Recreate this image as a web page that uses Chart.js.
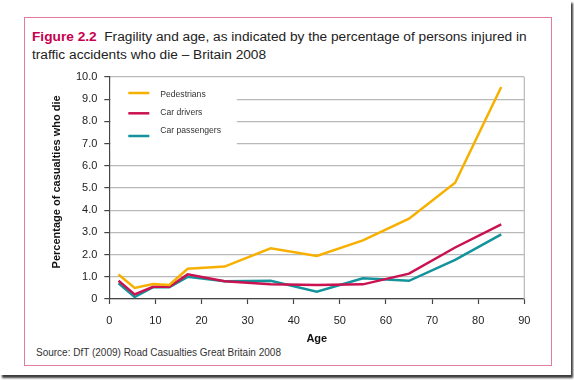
<!DOCTYPE html>
<html>
<head>
<meta charset="utf-8">
<script src="https://cdn.jsdelivr.net/npm/chart.js@4"></script>
<style>
  body { margin: 0; background: #fff; }
  #wrap { position: relative; width: 574px; height: 380px; overflow: hidden; background: #fff; }
  #paper { position: absolute; left: 0; top: 0; width: 571px; height: 375px; background: #fff; box-shadow: 2px 3px 2px #3a3a3a; }
  #frame { position: absolute; left: 24px; top: 17px; width: 526px; height: 347px; border: 1.5px solid #e27aa2; }
  #title { position: absolute; left: 32px; top: 28px; font: 13.7px/17.5px "Liberation Sans", Arial, sans-serif; color: #222; white-space: pre; }
  #title b { color: #c8004e; }
  #source { position: absolute; left: 36px; top: 347px; font: 10px/12px "Liberation Sans", Arial, sans-serif; color: #333; }
  #myChart { position: absolute; left: 0; top: 0; }
</style>
</head>
<body>
<div id="wrap">
  <div id="paper"></div>
  <div id="frame"></div>
  <div id="title"><b>Figure 2.2</b>  Fragility and age, as indicated by the percentage of persons injured in
traffic accidents who die – Britain 2008</div>
  <div id="source">Source: DfT (2009) Road Casualties Great Britain 2008</div>
  <canvas id="myChart" width="574" height="380"></canvas>
</div>
<script>
// values
const ages = [2, 5.5, 9.5, 13, 17, 25, 35, 45, 55, 65, 75, 85];
const pedestrians = [1.1, 0.5, 0.68, 0.63, 1.36, 1.46, 2.28, 1.94, 2.64, 3.62, 5.24, 9.55];
const carDrivers = [0.82, 0.21, 0.55, 0.55, 1.11, 0.8, 0.66, 0.63, 0.66, 1.14, 2.32, 3.36];
const carPassengers = [0.71, 0.09, 0.53, 0.53, 1.0, 0.8, 0.82, 0.33, 0.93, 0.82, 1.76, 2.91];
const seriesNames = ["Pedestrians", "Car drivers", "Car passengers"];
const xTicks = [0, 10, 20, 30, 40, 50, 60, 70, 80, 90];
const yTickLabels = ["0", "1.0", "2.0", "3.0", "4.0", "5.0", "6.0", "7.0", "8.0", "9.0", "10.0"];

const colours = ["#f7b000", "#c9124f", "#13939b"];
const gridColour = "#b9b9b9";
const axisColour = "#454545";

Chart.defaults.font.family = "'Liberation Sans', Arial, sans-serif";
Chart.defaults.color = "#222";

const toPoints = ys => ys.map((y, i) => ({ x: ages[i], y: y }));

// legend sits inside the plot, on a white patch over the grid
const insideLegend = {
  id: "insideLegend",
  beforeDatasetsDraw(chart) {
    const { ctx, chartArea } = chart;
    ctx.save();
    ctx.fillStyle = "#fff";
    ctx.fillRect(chartArea.left + 1.5, chartArea.top + 6, 126, 68);
    // right edge of plot frame
    ctx.strokeStyle = gridColour;
    ctx.lineWidth = 1.2;
    ctx.beginPath();
    ctx.moveTo(chartArea.right, chartArea.top);
    ctx.lineTo(chartArea.right, chartArea.bottom);
    ctx.stroke();
    ctx.restore();
  },
  afterDatasetsDraw(chart) {
    const { ctx, chartArea } = chart;
    const lineY = [16, 36.3, 59];
    const textY = [18, 36, 53.7];
    ctx.save();
    ctx.font = "8.6px 'Liberation Sans', Arial, sans-serif";
    ctx.textBaseline = "middle";
    chart.data.datasets.forEach((ds, i) => {
      ctx.strokeStyle = ds.borderColor;
      ctx.lineWidth = 2.5;
      ctx.beginPath();
      ctx.moveTo(chartArea.left + 19, chartArea.top + lineY[i]);
      ctx.lineTo(chartArea.left + 40, chartArea.top + lineY[i]);
      ctx.stroke();
      ctx.fillStyle = "#333";
      ctx.fillText(ds.label, chartArea.left + 51, chartArea.top + textY[i]);
    });
    ctx.restore();
  }
};

const data = {
  datasets: [pedestrians, carDrivers, carPassengers].map((ys, i) => ({
    label: seriesNames[i],
    data: toPoints(ys),
    borderColor: colours[i],
    backgroundColor: colours[i],
    borderWidth: 2.5,
    pointRadius: 0,
    tension: 0
  }))
};

const config = {
  type: "line",
  data: data,
  options: {
    responsive: false,
    animation: false,
    layout: { padding: { left: 0, right: 49.7, top: 77, bottom: 0 } },
    plugins: { legend: { display: false }, tooltip: { enabled: false } },
    scales: {
      x: {
        type: "linear",
        min: 0,
        max: 90,
        afterBuildTicks: scale => { scale.ticks = xTicks.map(v => ({ value: v })); },
        afterFit: scale => { scale.height = 81; },
        ticks: { padding: 10, font: { size: 11 }, color: "#222", maxRotation: 0 },
        grid: { drawOnChartArea: false, drawTicks: true, tickLength: 5, tickColor: axisColour, tickWidth: 1.2 },
        border: { color: axisColour, width: 1.2 },
        title: { display: true, text: "Age", font: { size: 11, weight: "bold" }, color: "#111", padding: { top: 0, bottom: 34.4 } }
      },
      y: {
        min: 0,
        max: 10,
        ticks: { stepSize: 1, padding: 7, font: { size: 11 }, color: "#222", callback: v => yTickLabels[Math.round(v)] },
        afterFit: scale => { scale.width = 109.3; },
        grid: { color: gridColour, lineWidth: 1.2, tickLength: 5, tickColor: axisColour, tickWidth: 1.2 },
        border: { color: axisColour, width: 1.2 },
        title: { display: true, text: "    Percentage of casualties who die", font: { size: 11, weight: "bold" }, color: "#111", padding: { top: 50.5, bottom: 0 } }
      }
    }
  },
  plugins: [insideLegend]
};

let myChart = new Chart(document.getElementById("myChart").getContext("2d"), config);
</script>
</body>
</html>
